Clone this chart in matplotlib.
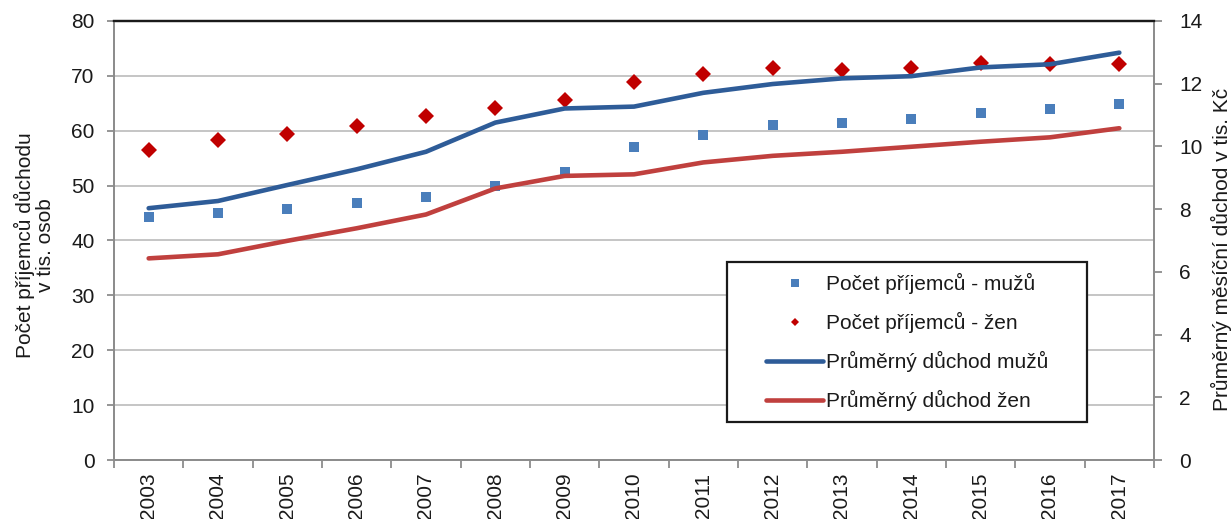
import numpy as np
import matplotlib
matplotlib.use("Agg")
import matplotlib.pyplot as plt
from matplotlib.patches import Rectangle

# ---- data ----
years = ["2003", "2004", "2005", "2006", "2007", "2008", "2009", "2010",
         "2011", "2012", "2013", "2014", "2015", "2016", "2017"]
count_men = [44.3, 45.0, 45.8, 46.9, 48.0, 50.0, 52.4, 57.1,
             59.2, 61.0, 61.5, 62.2, 63.3, 64.0, 64.8]
count_women = [56.5, 58.3, 59.4, 60.8, 62.7, 64.2, 65.6, 68.9,
               70.4, 71.5, 71.1, 71.5, 72.4, 72.2, 72.2]
pension_men = [8.03, 8.26, 8.77, 9.27, 9.83, 10.76, 11.21, 11.27,
               11.71, 11.99, 12.17, 12.24, 12.52, 12.62, 12.99]
pension_women = [6.43, 6.56, 6.99, 7.39, 7.83, 8.66, 9.06, 9.11,
                 9.49, 9.70, 9.83, 9.99, 10.15, 10.29, 10.58]
labels = ["Počet příjemců - mužů", "Počet příjemců - žen",
          "Průměrný důchod mužů", "Průměrný důchod žen"]
left_label = "Počet příjemců důchodu\nv tis. osob"
right_label = "Průměrný měsíční důchod v tis. Kč"

plt.rcParams['font.family'] = ['Liberation Sans', 'DejaVu Sans']
FS = 15
TXT = '#1a1a1a'
GRID = '#c0c0c0'
AXC = '#8c8c8c'

fig = plt.figure(figsize=(12.32, 5.19), dpi=100)
ax = fig.add_axes([114/1232, 1 - 460/519, 1040/1232, 439/519])
ax2 = ax.twinx()

x = np.arange(len(years))

m1, = ax.plot(x, count_men, linestyle='none', marker='s', markersize=7.5,
              color='#4a7ebb', markeredgewidth=0, zorder=3)
m2, = ax.plot(x, count_women, linestyle='none', marker='D', markersize=8.3,
              color='#c00000', markeredgewidth=0, zorder=3)
l1, = ax2.plot(x, pension_men, color='#2e5c98', linewidth=3.3,
               solid_capstyle='round', zorder=4)
l2, = ax2.plot(x, pension_women, color='#c0403e', linewidth=3.3,
               solid_capstyle='round', zorder=4)

ax.set_xlim(-0.5, len(years) - 0.5)
ax.set_ylim(0, 80)
ax2.set_ylim(0, 14)
ax.set_yticks(np.arange(0, 81, 10))
ax2.set_yticks(np.arange(0, 15, 2))

ax.set_xticks(x)
ax.set_xticklabels(years, rotation=90, ha='center', va='top')
ax.set_xticks(np.arange(-0.5, len(years), 1.0), minor=True)
ax.tick_params(axis='x', which='major', length=0, pad=9, labelsize=FS, labelcolor=TXT)
ax.tick_params(axis='x', which='minor', length=6, width=1.3, color=AXC, direction='out')
ax.tick_params(axis='y', length=5, width=1.3, color=AXC, pad=9, labelsize=FS, labelcolor=TXT)
ax2.tick_params(axis='y', length=6, width=1.3, color=AXC, pad=12, labelsize=FS, labelcolor=TXT)

ax.yaxis.grid(True, color=GRID, linewidth=1.3)
ax.set_axisbelow(True)

for sp in ['left', 'bottom', 'right']:
    ax.spines[sp].set_color(AXC)
    ax.spines[sp].set_linewidth(1.3)
    ax2.spines[sp].set_color(AXC)
    ax2.spines[sp].set_linewidth(1.3)
ax.spines['top'].set_color('#1a1a1a')
ax.spines['top'].set_linewidth(1.6)
ax2.spines['top'].set_color('#1a1a1a')
ax2.spines['top'].set_linewidth(1.6)

ax.set_ylabel(left_label, fontsize=FS, color=TXT, linespacing=1.05)
ax.yaxis.set_label_coords(-0.057, 0.49)
ax2.set_ylabel(right_label, fontsize=FS, color=TXT)
ax2.yaxis.set_label_coords(1.055, 0.48)

# legend frame + legend
rect = Rectangle((0.5894, 0.0866), 0.3462, 0.3645, transform=ax2.transAxes,
                 facecolor='white', edgecolor='#1a1a1a', linewidth=1.6, zorder=5)
ax2.add_patch(rect)
leg = ax2.legend([m1, m2, l1, l2], labels, loc='center',
                 bbox_to_anchor=(0.7625, 0.2688), frameon=False,
                 fontsize=FS, handlelength=2.74, handletextpad=0.12,
                 labelspacing=0.86, borderpad=0, numpoints=1)
leg.set_zorder(6)
for t in leg.get_texts():
    t.set_color(TXT)
hs = leg.legend_handles
hs[0].set_markersize(6)
hs[1].set_markersize(3.8)

fig.savefig("out.png", dpi=100)
